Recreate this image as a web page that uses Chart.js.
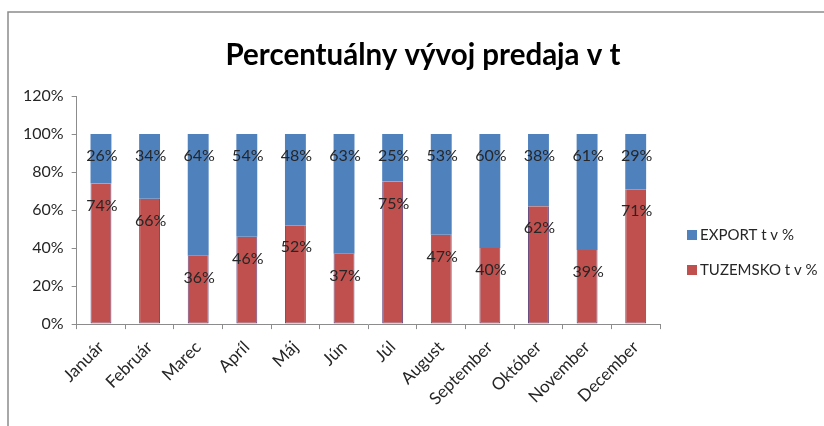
<!DOCTYPE html>
<html>
<head>
<meta charset="utf-8">
<script src="https://cdn.jsdelivr.net/npm/chart.js@4"></script>
<style>
  html, body { margin: 0; padding: 0; background: #fff; }
  #wrap { width: 824px; height: 426px; }
</style>
</head>
<body>
<div id="wrap"><canvas id="BarChart" width="824" height="426"></canvas></div>
<script>
// Data
const months = ['Január', 'Február', 'Marec', 'Apríl', 'Máj', 'Jún', 'Júl', 'August', 'September', 'Október', 'November', 'December'];
const tuzemsko = [74, 66, 36, 46, 52, 37, 75, 47, 40, 62, 39, 71];
const exportPct = [26, 34, 64, 54, 48, 63, 25, 53, 60, 38, 61, 29];
const seriesNames = ['TUZEMSKO t v %', 'EXPORT t v %'];
const chartTitle = 'Percentuálny vývoj predaja v t';

const ctx_bar = document.getElementById('BarChart').getContext('2d');
const FONT = 'Lato, "DejaVu Sans", sans-serif';

// Chart frame (top and left border lines like the Excel chart area) + title
const framePlugin = {
    id: 'frame',
    beforeDraw(chart) {
        const c = chart.ctx;
        c.save();
        c.strokeStyle = '#8c8c8c';
        c.lineWidth = 1.5;
        c.beginPath();
        c.moveTo(8, 426);
        c.lineTo(8, 12);
        c.lineTo(824, 12);
        c.stroke();
        // title centred over the whole chart, legend included
        c.font = 'bold 29.5px ' + FONT;
        c.fillStyle = '#000';
        c.textAlign = 'center';
        c.textBaseline = 'alphabetic';
        c.fillText(chartTitle, 423, 65);
        c.restore();
    }
};

// Value labels near the top of each segment
const valueLabels = {
    id: 'valueLabels',
    afterDatasetsDraw(chart) {
        const c = chart.ctx;
        c.save();
        c.font = '16px ' + FONT;
        c.fillStyle = '#262626';
        c.textAlign = 'center';
        c.textBaseline = 'middle';
        chart.data.datasets.forEach((ds, i) => {
            chart.getDatasetMeta(i).data.forEach((bar, j) => {
                c.fillText(ds.data[j] + '%', bar.x + 1, bar.y + 22);
            });
        });
        c.restore();
    }
};

// Legend on the right (EXPORT first, then TUZEMSKO)
const sideLegend = {
    id: 'sideLegend',
    afterDraw(chart) {
        const c = chart.ctx;
        c.save();
        c.font = '15px ' + FONT;
        c.textBaseline = 'middle';
        c.textAlign = 'left';
        const items = chart.data.datasets.slice().reverse();
        items.forEach((ds, k) => {
            const y = 235 + k * 35;
            c.fillStyle = ds.backgroundColor;
            c.fillRect(687, y - 5, 10, 10);
            c.fillStyle = '#262626';
            c.fillText(ds.label, 700, y);
        });
        c.restore();
    }
};

const barChart = new Chart(ctx_bar, {
    type: 'bar',
    data: {
        labels: months,
        datasets: [{
            label: seriesNames[0],
            data: tuzemsko,
            backgroundColor: '#C0504D',
            borderColor: '#6a4a7e',
            borderWidth: { left: 1, right: 1, bottom: 1, top: 0 },
            borderSkipped: false,
            categoryPercentage: 1,
            barPercentage: 0.43
        }, {
            label: seriesNames[1],
            data: exportPct,
            backgroundColor: '#4F81BD',
            borderWidth: 0,
            categoryPercentage: 1,
            barPercentage: 0.43
        }]
    },
    options: {
        responsive: false,
        animation: false,
        layout: {
            padding: { left: 15, right: 164, top: 96, bottom: 9 }
        },
        plugins: {
            legend: { display: false },
            tooltip: { enabled: false },
            title: { display: false }
        },
        scales: {
            x: {
                stacked: true,
                grid: {
                    offset: true,
                    drawOnChartArea: false,
                    color: '#8c8c8c',
                    tickLength: 5
                },
                border: { color: '#8c8c8c' },
                ticks: {
                    color: '#262626',
                    font: { family: FONT, size: 17 },
                    padding: 8,
                    maxRotation: 45,
                    minRotation: 45,
                    autoSkip: false
                }
            },
            y: {
                stacked: true,
                min: 0,
                max: 120,
                grid: {
                    drawOnChartArea: false,
                    color: '#8c8c8c',
                    tickLength: 5
                },
                border: { color: '#8c8c8c' },
                ticks: {
                    stepSize: 20,
                    color: '#262626',
                    font: { family: FONT, size: 16 },
                    padding: 8,
                    callback: v => v + '%'
                }
            }
        }
    },
    plugins: [framePlugin, valueLabels, sideLegend]
});
</script>
</body>
</html>
